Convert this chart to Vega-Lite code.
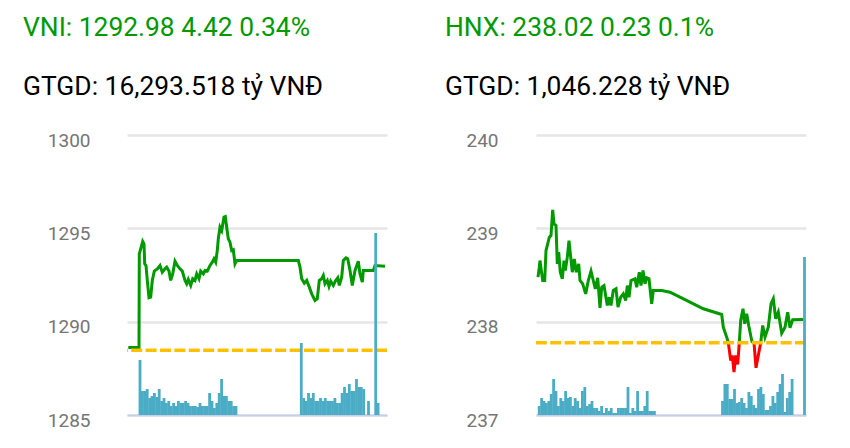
{
  "$schema": "https://vega.github.io/schema/vega-lite/v6.json",
  "background": "white",
  "padding": {"left": 23, "top": 15, "right": 40, "bottom": 5},
  "config": {
    "view": {"stroke": null},
    "font": "Roboto",
    "title": {"font": "Roboto", "subtitleFont": "Roboto"}
  },
  "datasets": {
    "vni_line": [
      {"t":1.3,"price":1288.62},{"t":12,"price":1288.62},{"t":12.3,"price":1293.63},{"t":13.7,"price":1293.9},{"t":15.7,"price":1294.3},{"t":17,"price":1294.17},{"t":17.7,"price":1293.1},{"t":19,"price":1293.01},{"t":20.3,"price":1292.21},{"t":22,"price":1291.28},{"t":23.7,"price":1291.31},{"t":25.3,"price":1292.21},{"t":27.3,"price":1292.71},{"t":30.3,"price":1292.83},{"t":33,"price":1293.01},{"t":35.3,"price":1292.65},{"t":38,"price":1292.83},{"t":39.7,"price":1292.92},{"t":42,"price":1292.71},{"t":43.7,"price":1292.21},{"t":45.7,"price":1292.56},{"t":48,"price":1293.24},{"t":50.3,"price":1293.01},{"t":53,"price":1292.83},{"t":55.3,"price":1292.71},{"t":58,"price":1292.21},{"t":59.7,"price":1292.03},{"t":61.3,"price":1292.26},{"t":63.7,"price":1291.94},{"t":65.7,"price":1292.3},{"t":68,"price":1292.21},{"t":69.7,"price":1292.56},{"t":72,"price":1292.3},{"t":73.7,"price":1292.71},{"t":76.3,"price":1292.56},{"t":78,"price":1292.74},{"t":80.3,"price":1292.71},{"t":83,"price":1293.01},{"t":85.3,"price":1293.19},{"t":87,"price":1293.37},{"t":88.7,"price":1293.19},{"t":90.3,"price":1293.81},{"t":91.3,"price":1294.44},{"t":93,"price":1295.06},{"t":94.7,"price":1294.88},{"t":97,"price":1295.6},{"t":98.3,"price":1295.63},{"t":99.7,"price":1295.06},{"t":101.3,"price":1294.44},{"t":103,"price":1294.26},{"t":104.7,"price":1293.81},{"t":106.3,"price":1293.85},{"t":108,"price":1293.1},{"t":109.7,"price":1293.28},{"t":171.3,"price":1293.28},{"t":173,"price":1292.92},{"t":174.7,"price":1292.3},{"t":177.3,"price":1292.06},{"t":179.7,"price":1292.21},{"t":182.3,"price":1291.85},{"t":184.7,"price":1291.49},{"t":188,"price":1291.14},{"t":190.3,"price":1291.23},{"t":192.3,"price":1292.21},{"t":194.7,"price":1292.3},{"t":196.3,"price":1292.47},{"t":198,"price":1292.03},{"t":200.3,"price":1292.21},{"t":202,"price":1291.89},{"t":203.7,"price":1292.17},{"t":206.3,"price":1291.94},{"t":208.7,"price":1292.21},{"t":210.7,"price":1292.35},{"t":212.3,"price":1291.94},{"t":214.7,"price":1292.39},{"t":216.3,"price":1293.28},{"t":219,"price":1293.42},{"t":220.7,"price":1293.37},{"t":223,"price":1292.74},{"t":225.3,"price":1291.94},{"t":228,"price":1292.74},{"t":231.3,"price":1293.24},{"t":233,"price":1292.56},{"t":235.3,"price":1292.12},{"t":236.3,"price":1292.74},{"t":246.3,"price":1292.74},{"t":248,"price":1293.01},{"t":258,"price":1292.97}
    ],
    "vni_vol": [
      {"t":13,"vol":55},{"t":15.4,"vol":24},{"t":17.8,"vol":24},{"t":20.2,"vol":26},{"t":22.6,"vol":17},{"t":25,"vol":19},{"t":27.4,"vol":22},{"t":29.8,"vol":18},{"t":32.2,"vol":26},{"t":34.6,"vol":14},{"t":37,"vol":17},{"t":39.4,"vol":12},{"t":41.8,"vol":14},{"t":44.2,"vol":9},{"t":46.6,"vol":12},{"t":49,"vol":9},{"t":51.4,"vol":14},{"t":53.8,"vol":12},{"t":56.2,"vol":12},{"t":58.6,"vol":14},{"t":61,"vol":12},{"t":63.4,"vol":9},{"t":65.8,"vol":9},{"t":68.2,"vol":9},{"t":70.6,"vol":8},{"t":73,"vol":12},{"t":75.4,"vol":9},{"t":77.8,"vol":9},{"t":80.2,"vol":9},{"t":82.6,"vol":22},{"t":85,"vol":14},{"t":87.4,"vol":7},{"t":89.8,"vol":12},{"t":92.2,"vol":22},{"t":94.6,"vol":36},{"t":97,"vol":19},{"t":99.4,"vol":19},{"t":101.8,"vol":14},{"t":104.2,"vol":14},{"t":106.6,"vol":9},{"t":109,"vol":9},
      {"t":174.3,"vol":72},{"t":176.7,"vol":17},{"t":179.1,"vol":14},{"t":181.5,"vol":22},{"t":183.9,"vol":17},{"t":186.3,"vol":22},{"t":188.7,"vol":14},{"t":191.1,"vol":14},{"t":193.5,"vol":17},{"t":195.9,"vol":14},{"t":198.3,"vol":17},{"t":200.7,"vol":14},{"t":203.1,"vol":14},{"t":205.5,"vol":14},{"t":207.9,"vol":17},{"t":210.3,"vol":12},{"t":212.7,"vol":12},{"t":215.1,"vol":22},{"t":217.5,"vol":28},{"t":219.9,"vol":22},{"t":222.3,"vol":31},{"t":224.7,"vol":24},{"t":227.1,"vol":24},{"t":229.5,"vol":36},{"t":231.9,"vol":28},{"t":234.3,"vol":28},{"t":236.7,"vol":26},{"t":241.5,"vol":14},{"t":248.7,"vol":182},{"t":251.1,"vol":12}
    ],
    "hnx_line": [
      {"t":2,"price":238.477,"seg":"a"},{"t":3.3,"price":238.584,"seg":"a"},{"t":4,"price":238.655,"seg":"a"},{"t":5.3,"price":238.548,"seg":"a"},{"t":6.7,"price":238.441,"seg":"a"},{"t":8.7,"price":238.441,"seg":"a"},{"t":10,"price":238.762,"seg":"a"},{"t":11.7,"price":238.834,"seg":"a"},{"t":13.3,"price":238.905,"seg":"a"},{"t":15,"price":238.923,"seg":"a"},{"t":16.7,"price":239.198,"seg":"a"},{"t":18,"price":239.048,"seg":"a"},{"t":20,"price":239.03,"seg":"a"},{"t":21.3,"price":238.619,"seg":"a"},{"t":22.7,"price":238.744,"seg":"a"},{"t":24.3,"price":238.53,"seg":"a"},{"t":26.3,"price":238.459,"seg":"a"},{"t":28,"price":238.655,"seg":"a"},{"t":29.3,"price":238.548,"seg":"a"},{"t":31.3,"price":238.691,"seg":"a"},{"t":33,"price":238.869,"seg":"a"},{"t":34.7,"price":238.691,"seg":"a"},{"t":36.3,"price":238.53,"seg":"a"},{"t":38.3,"price":238.673,"seg":"a"},{"t":40.3,"price":238.53,"seg":"a"},{"t":42.7,"price":238.619,"seg":"a"},{"t":44,"price":238.441,"seg":"a"},{"t":46.7,"price":238.405,"seg":"a"},{"t":49.7,"price":238.298,"seg":"a"},{"t":52.3,"price":238.441,"seg":"a"},{"t":55,"price":238.541,"seg":"a"},{"t":57.3,"price":238.441,"seg":"a"},{"t":59.3,"price":238.352,"seg":"a"},{"t":61.7,"price":238.469,"seg":"a"},{"t":64,"price":238.148,"seg":"a"},{"t":65.7,"price":238.369,"seg":"a"},{"t":68,"price":238.387,"seg":"a"},{"t":71.3,"price":238.173,"seg":"a"},{"t":73.3,"price":238.262,"seg":"a"},{"t":75,"price":238.173,"seg":"a"},{"t":77.3,"price":238.334,"seg":"a"},{"t":80,"price":238.352,"seg":"a"},{"t":82,"price":238.155,"seg":"a"},{"t":84.7,"price":238.262,"seg":"a"},{"t":87.3,"price":238.298,"seg":"a"},{"t":89.7,"price":238.227,"seg":"a"},{"t":91.3,"price":238.387,"seg":"a"},{"t":93,"price":238.262,"seg":"a"},{"t":95,"price":238.441,"seg":"a"},{"t":99,"price":238.459,"seg":"a"},{"t":100.7,"price":238.369,"seg":"a"},{"t":103.3,"price":238.53,"seg":"a"},{"t":105,"price":238.387,"seg":"a"},{"t":107,"price":238.548,"seg":"a"},{"t":109,"price":238.405,"seg":"a"},{"t":110.7,"price":238.469,"seg":"a"},{"t":113,"price":238.459,"seg":"a"},{"t":115.7,"price":238.191,"seg":"a"},{"t":117.3,"price":238.334,"seg":"a"},{"t":125.7,"price":238.334,"seg":"a"},{"t":134,"price":238.316,"seg":"a"},{"t":144,"price":238.263,"seg":"a"},{"t":154,"price":238.209,"seg":"a"},{"t":167.3,"price":238.138,"seg":"a"},{"t":185.7,"price":238.077,"seg":"a"},{"t":187.3,"price":237.941,"seg":"a"},{"t":190.7,"price":237.834,"seg":"a"},{"t":192.3,"price":237.775,"seg":"a"},
      {"t":192.3,"price":237.775,"seg":"b"},{"t":194.7,"price":237.584,"seg":"b"},{"t":196.3,"price":237.638,"seg":"b"},{"t":198,"price":237.459,"seg":"b"},{"t":199.7,"price":237.638,"seg":"b"},{"t":201.7,"price":237.541,"seg":"b"},{"t":203.3,"price":237.775,"seg":"b"},
      {"t":203.3,"price":237.775,"seg":"c"},{"t":204.7,"price":238.013,"seg":"c"},{"t":207,"price":238.138,"seg":"c"},{"t":208.7,"price":237.977,"seg":"c"},{"t":210.7,"price":238.084,"seg":"c"},{"t":212.7,"price":237.959,"seg":"c"},{"t":215.7,"price":237.799,"seg":"c"},{"t":216.5,"price":237.775,"seg":"c"},
      {"t":216.5,"price":237.775,"seg":"d"},{"t":218,"price":237.775,"seg":"d"},{"t":220,"price":237.506,"seg":"d"},{"t":222.3,"price":237.638,"seg":"d"},{"t":224.7,"price":237.775,"seg":"d"},
      {"t":224.7,"price":237.775,"seg":"e"},{"t":226.7,"price":237.959,"seg":"e"},{"t":229,"price":237.834,"seg":"e"},{"t":232.3,"price":237.941,"seg":"e"},{"t":235,"price":238.191,"seg":"e"},{"t":237.3,"price":238.245,"seg":"e"},{"t":239.7,"price":238.031,"seg":"e"},{"t":242.3,"price":238.102,"seg":"e"},{"t":245.7,"price":237.877,"seg":"e"},{"t":249,"price":237.941,"seg":"e"},{"t":251.7,"price":238.102,"seg":"e"},{"t":254,"price":237.934,"seg":"e"},{"t":256.7,"price":238.02,"seg":"e"},{"t":267.3,"price":238.024,"seg":"e"}
    ],
    "hnx_vol": [
      {"t":3.2,"vol":9},{"t":5.6,"vol":17},{"t":8,"vol":14},{"t":10.4,"vol":12},{"t":12.8,"vol":14},{"t":15.2,"vol":21},{"t":17.6,"vol":36},{"t":20,"vol":24},{"t":22.4,"vol":9},{"t":24.8,"vol":17},{"t":27.2,"vol":14},{"t":29.6,"vol":24},{"t":32,"vol":17},{"t":34.4,"vol":18},{"t":36.8,"vol":9},{"t":39.2,"vol":17},{"t":41.6,"vol":14},{"t":44,"vol":7},{"t":46.4,"vol":24},{"t":48.8,"vol":28},{"t":51.2,"vol":9},{"t":53.6,"vol":11},{"t":56,"vol":14},{"t":58.4,"vol":7},{"t":60.8,"vol":7},{"t":63.2,"vol":4},{"t":65.6,"vol":9},{"t":68,"vol":2},{"t":70.4,"vol":7},{"t":72.8,"vol":4},{"t":75.2,"vol":7},{"t":77.6,"vol":2},{"t":80,"vol":2},{"t":82.4,"vol":7},{"t":84.8,"vol":7},{"t":87.2,"vol":7},{"t":89.6,"vol":7},{"t":92,"vol":28},{"t":94.4,"vol":2},{"t":96.8,"vol":7},{"t":99.2,"vol":4},{"t":101.6,"vol":24},{"t":104,"vol":4},{"t":106.4,"vol":4},{"t":108.8,"vol":9},{"t":111.2,"vol":24},{"t":113.6,"vol":4},{"t":116,"vol":4},{"t":118.4,"vol":4},
      {"t":186.5,"vol":14},{"t":188.9,"vol":31},{"t":191.3,"vol":31},{"t":193.7,"vol":16},{"t":196.1,"vol":16},{"t":198.5,"vol":26},{"t":200.9,"vol":12},{"t":203.3,"vol":13},{"t":205.7,"vol":17},{"t":208.1,"vol":12},{"t":210.5,"vol":7},{"t":212.9,"vol":23},{"t":215.3,"vol":19},{"t":217.7,"vol":10},{"t":220.1,"vol":7},{"t":222.5,"vol":26},{"t":224.9,"vol":28},{"t":227.3,"vol":21},{"t":229.7,"vol":5},{"t":232.1,"vol":5},{"t":234.5,"vol":9},{"t":236.9,"vol":19},{"t":239.3,"vol":12},{"t":241.7,"vol":23},{"t":244.1,"vol":31},{"t":246.5,"vol":41},{"t":248.9,"vol":3},{"t":251.3,"vol":17},{"t":253.7,"vol":23},{"t":256.1,"vol":36},{"t":268.5,"vol":158}
    ]
  },
  "hconcat": [
    {
      "width": 260,
      "height": 280,
      "title": {
        "text": "VNI: 1292.98 4.42 0.34%",
        "subtitle": "GTGD: 16,293.518 tỷ VNĐ",
        "color": "#009900",
        "subtitleColor": "#000000",
        "fontSize": 26.4,
        "subtitleFontSize": 26.4,
        "fontWeight": "normal",
        "anchor": "start",
        "frame": "group",
        "dx": -104,
        "offset": 31,
        "subtitlePadding": 32
      },
      "resolve": {"scale": {"y": "independent"}},
      "layer": [
        {
          "data": {"name": "vni_line"},
          "mark": {"type": "line", "color": "#009900", "strokeWidth": 3},
          "encoding": {
            "x": {"field": "t", "type": "quantitative", "scale": {"domain": [0, 260], "padding": 0},
                  "axis": {"title": null, "labels": false, "ticks": false, "grid": false, "domainColor": "#c5cfe8", "domainWidth": 2}},
            "y": {"field": "price", "type": "quantitative", "scale": {"domain": [1285, 1300]},
                  "axis": {"title": null, "values": [1285, 1290, 1295, 1300], "format": "d", "ticks": false, "domain": false, "grid": true, "gridColor": "#e6e6e6", "gridWidth": 2.5,
                           "labelFont": "Roboto", "labelFontSize": 19, "labelColor": "#757575", "labelPadding": 37, "labelOffset": 5, "labelBound": false, "labelFlush": false}}
          }
        },
        {
          "data": {"values": [{"ref": 1288.47}]},
          "mark": {"type": "rule", "color": "#ffc000", "strokeWidth": 3.5, "strokeDash": [11, 3.4]},
          "encoding": {
            "y": {"field": "ref", "type": "quantitative", "scale": {"domain": [1285, 1300]}, "axis": null}
          }
        },
        {
          "data": {"name": "vni_vol"},
          "mark": {"type": "bar", "color": "#4bacc6", "size": 2.8},
          "encoding": {
            "x": {"field": "t", "type": "quantitative", "scale": {"domain": [0, 260], "padding": 0}},
            "y": {"field": "vol", "type": "quantitative", "scale": {"domain": [0, 280]}, "axis": null}
          }
        }
      ]
    },
    {
      "width": 270,
      "height": 280,
      "title": {
        "text": "HNX: 238.02 0.23 0.1%",
        "subtitle": "GTGD: 1,046.228 tỷ VNĐ",
        "color": "#009900",
        "subtitleColor": "#000000",
        "fontSize": 26.4,
        "subtitleFontSize": 26.4,
        "fontWeight": "normal",
        "anchor": "start",
        "frame": "group",
        "dx": -91,
        "offset": 31,
        "subtitlePadding": 32
      },
      "resolve": {"scale": {"y": "independent"}},
      "layer": [
        {
          "data": {"name": "hnx_line"},
          "mark": {"type": "line", "strokeWidth": 3},
          "encoding": {
            "x": {"field": "t", "type": "quantitative", "scale": {"domain": [0, 270], "padding": 0},
                  "axis": {"title": null, "labels": false, "ticks": false, "grid": false, "domainColor": "#c5cfe8", "domainWidth": 2}},
            "y": {"field": "price", "type": "quantitative", "scale": {"domain": [237, 240]},
                  "axis": {"title": null, "values": [237, 238, 239, 240], "format": "d", "ticks": false, "domain": false, "grid": true, "gridColor": "#e6e6e6", "gridWidth": 2.5,
                           "labelFont": "Roboto", "labelFontSize": 19, "labelColor": "#757575", "labelPadding": 38, "labelOffset": 5, "labelBound": false, "labelFlush": false}},
            "color": {"field": "seg", "type": "nominal", "legend": null,
                      "scale": {"domain": ["a", "b", "c", "d", "e"], "range": ["#009900", "#ff0000", "#009900", "#ff0000", "#009900"]}}
          }
        },
        {
          "data": {"values": [{"ref": 237.775}]},
          "mark": {"type": "rule", "color": "#ffc000", "strokeWidth": 3.5, "strokeDash": [11, 3.4]},
          "encoding": {
            "y": {"field": "ref", "type": "quantitative", "scale": {"domain": [237, 240]}, "axis": null}
          }
        },
        {
          "data": {"name": "hnx_vol"},
          "mark": {"type": "bar", "color": "#4bacc6", "size": 2.8},
          "encoding": {
            "x": {"field": "t", "type": "quantitative", "scale": {"domain": [0, 270], "padding": 0}},
            "y": {"field": "vol", "type": "quantitative", "scale": {"domain": [0, 280]}, "axis": null}
          }
        }
      ]
    }
  ],
  "spacing": 54
}
